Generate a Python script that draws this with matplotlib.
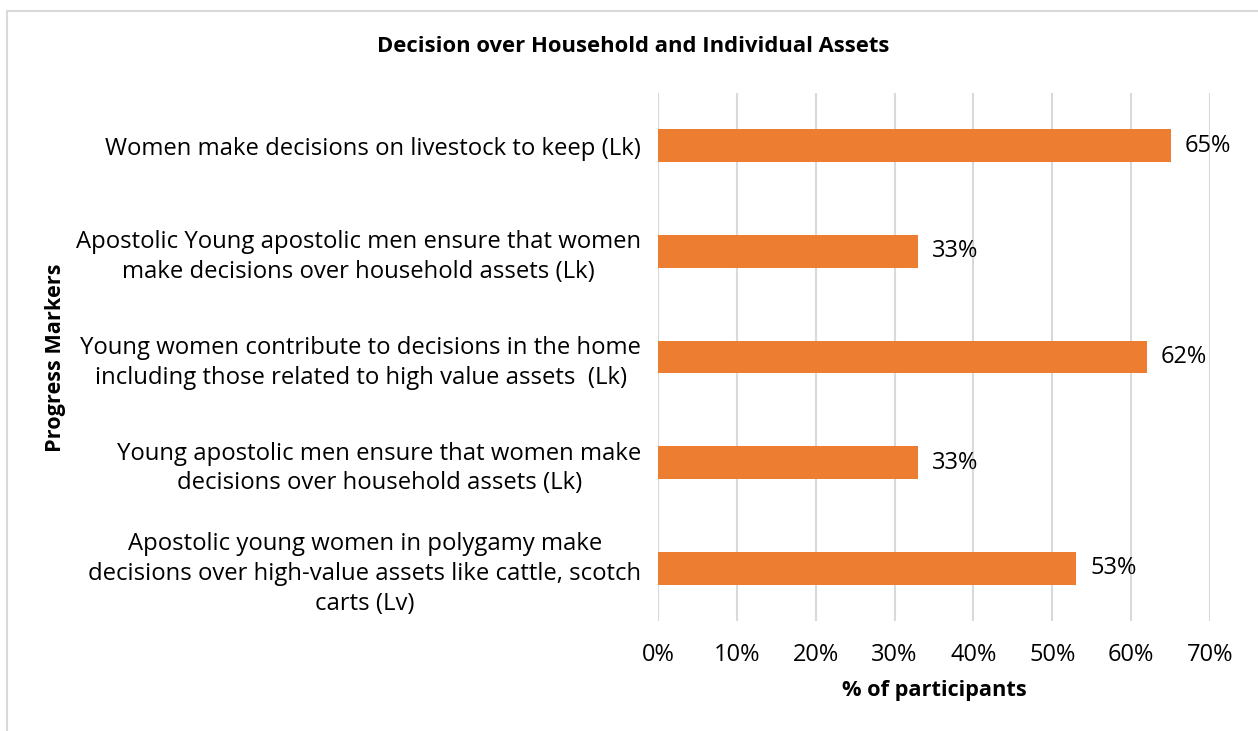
import matplotlib.pyplot as plt
from matplotlib.patches import Rectangle

plt.rcParams['font.family'] = ['Open Sans', 'DejaVu Sans']

markers = [
    'Women make decisions on livestock to keep (Lk)',
    'Apostolic Young apostolic men ensure that women\nmake decisions over household assets (Lk)',
    'Young women contribute to decisions in the home\nincluding those related to high value assets  (Lk)',
    'Young apostolic men ensure that women make\ndecisions over household assets (Lk)',
    'Apostolic young women in polygamy make\ndecisions over high-value assets like cattle, scotch\ncarts (Lv)',
]
percent = [65, 33, 62, 33, 53]
xticks = [0, 10, 20, 30, 40, 50, 60, 70]

fig = plt.figure(figsize=(12.58, 7.31), dpi=100)
ax = fig.add_axes([658 / 1258, 1 - 621 / 731, 552 / 1258, 528 / 731])

# outer chart border (only top/left visible in the source crop)
fig.patches.append(Rectangle((7 / 1258, -0.1), 1.2, 1 - 11 / 731 + 0.1,
                             transform=fig.transFigure, fill=False,
                             edgecolor='#D9D9D9', linewidth=1.5))

y = list(range(len(markers)))
ax.barh(y, percent, height=0.31, color='#ED7D31', zorder=3)
for yi, v in zip(y, percent):
    ax.text(v + 1.8, yi, f'{v}%', va='center', ha='left', fontsize=17)

ax.set_xlim(0, 70)
ax.set_ylim(len(markers) - 0.5, -0.5)
ax.set_xticks(xticks)
ax.set_xticklabels([f'{t}%' for t in xticks], fontsize=17)
ax.set_yticks(y)
ax.set_yticklabels(markers, fontsize=17.2, multialignment='center',
                   linespacing=1.32)
ax.tick_params(axis='both', length=0)
ax.tick_params(axis='y', pad=12)
ax.tick_params(axis='x', pad=16)
ax.grid(axis='x', color='#D9D9D9', linewidth=1.5, zorder=0)
for s in ax.spines.values():
    s.set_visible(False)

ax.set_xlabel('% of participants', fontsize=15.7, fontweight='bold', labelpad=9)
fig.text(56 / 1258, 1 - 358 / 731, 'Progress Markers', rotation=90,
         ha='center', va='center', fontsize=15.6, fontweight='bold')
fig.text(633 / 1258, 1 - 46 / 731, 'Decision over Household and Individual Assets',
         ha='center', va='center', fontsize=15.8, fontweight='bold')

fig.savefig('out.png', dpi=100)
